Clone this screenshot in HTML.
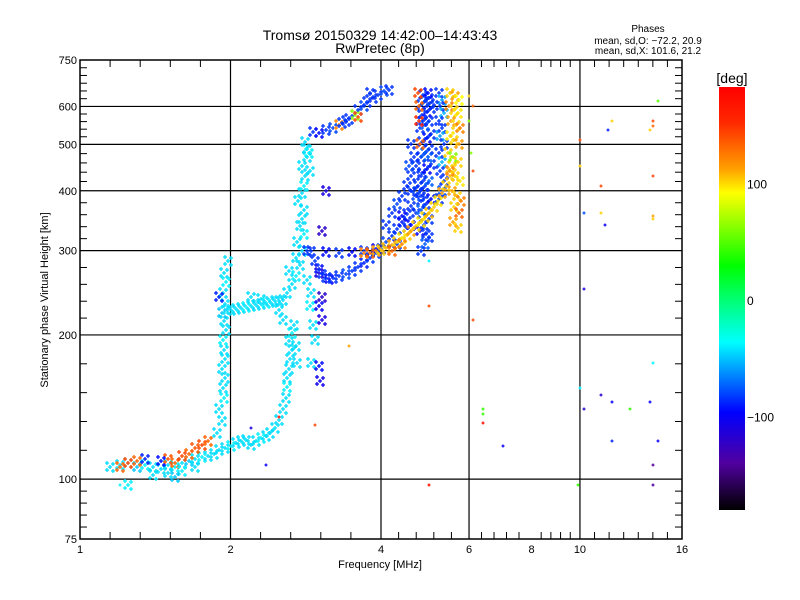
<!DOCTYPE html>
<html><head><meta charset="utf-8"><style>
body{margin:0;background:#fff;}
svg{display:block;font-family:"Liberation Sans",sans-serif;}
</style></head><body>
<svg id="c" width="800" height="600" viewBox="0 0 800 600">
<rect x="0" y="0" width="800" height="600" fill="#fff"/>
<text x="380" y="40" font-size="14" text-anchor="middle">Tromsø 20150329 14:42:00–14:43:43</text>
<text x="380" y="53" font-size="14" text-anchor="middle">RwPretec (8p)</text>
<text x="648" y="32" font-size="10" text-anchor="middle">Phases</text>
<text x="648" y="44" font-size="10" text-anchor="middle">mean, sd,O: −72.2, 20.9</text>
<text x="648" y="54" font-size="10" text-anchor="middle">mean, sd,X: 101.6, 21.2</text>
<g id="grid"></g>
<g id="pts"></g>
<g id="axes"></g>
<text x="380" y="568" font-size="11" text-anchor="middle">Frequency [MHz]</text>
<text transform="translate(48,300) rotate(-90)" font-size="11" text-anchor="middle">Stationary phase Virtual Height [km]</text>
<defs><linearGradient id="cg" x1="0" y1="0" x2="0" y2="1">
<stop offset="0" stop-color="#ff0000"/><stop offset="0.083" stop-color="#ff2800"/><stop offset="0.194" stop-color="#ffa000"/><stop offset="0.25" stop-color="#ffff00"/><stop offset="0.422" stop-color="#00ff00"/><stop offset="0.603" stop-color="#00ffff"/><stop offset="0.769" stop-color="#0000ff"/><stop offset="0.889" stop-color="#50009f"/><stop offset="1" stop-color="#000000"/>
</linearGradient></defs>
<rect x="719" y="87" width="26" height="423" fill="url(#cg)"/>
<text x="732" y="83" font-size="14" text-anchor="middle">[deg]</text>
<g id="cbt"></g>
</svg>
<script>
const NS="http://www.w3.org/2000/svg";
const xTicks=[1,2,4,6,8,10,16];
const yTicks=[75,100,200,300,400,500,600,750];
const yGrid=[100,200,300,400,500,600];
const xGrid=[2,4,6,10];
const cbTicks=[100,0,-100];
const eLow=[[1.15,106,-45],[1.2,107,-45],[1.25,108,-45],[1.3,106,-50],[1.35,107,-40],[1.4,106,-45],[1.45,105,-45],[1.5,107,-45],[1.55,106,-40],[1.6,108,-45],[1.65,109,-50],[1.7,110,-45],[1.75,111,-40],[1.8,112,-45],[1.85,113,-45],[1.9,115,-45],[1.95,116,-45],[2.0,117,-40],[2.05,119,-45],[2.1,120,-45],[2.15,121,-45],
[1.2,106,130],[1.25,108,140],[1.3,109,130],[1.5,110,135],[1.55,108,130],[1.6,112,140],[1.65,113,130],[1.7,116,135],[1.75,118,140],[1.8,120,130],[1.45,109,-95],[1.35,110,-90],
[1.4,102,-45],[1.5,103,-45],[1.6,104,-40],[1.7,106,-45],[1.55,101,-50],[1.25,97,-40]];
const eVert=[[1.88,125,-45],[1.92,132,-45],[1.9,140,-45],[1.94,148,-40],[1.93,155,-45],[1.95,163,-45],[1.92,170,-45],[1.95,178,-45],[1.94,186,-45],[1.93,195,-40],[1.96,205,-45],[1.94,214,-45],[1.92,222,-50],[1.95,232,-45],[1.93,245,-45],[1.96,258,-40],[1.94,270,-45],[1.98,285,-45],[1.9,240,-90],[1.97,225,-45],
[2.0,226,-45],[2.05,227,-45],[2.1,228,-45],[2.15,229,-40],[2.2,230,-45],[2.25,231,-45],[2.3,232,-45],[2.35,233,-40],[2.4,234,-45],[2.45,235,-45],[2.5,236,-45],[2.55,237,-45],[2.2,240,-45],[2.3,238,-45]];
const f1Trace=[[2.2,118,-45],[2.25,120,-45],[2.3,122,-40],[2.35,123,-45],[2.4,125,-45],[2.45,128,-45],[2.5,133,-45],[2.55,140,-45],[2.58,148,-45],[2.6,156,-40],[2.6,163,-45],[2.62,170,-45],[2.63,178,-45],[2.65,186,-45],[2.62,194,-45],[2.65,202,-40],[2.68,210,-45],[2.7,190,-45],[2.72,175,-45],
[2.6,245,-45],[2.65,255,-45],[2.7,265,-40],[2.62,272,-45],[2.75,280,-45],[2.7,290,-45],[2.78,300,-45],[2.72,312,-45],[2.8,325,-40],[2.75,338,-45],[2.78,350,-45],[2.8,365,-45],[2.73,380,-45],[2.78,395,-45],[2.8,410,-40],[2.82,430,-45],[2.78,450,-45],[2.84,470,-45],[2.85,490,-45],[2.82,505,-45],[2.87,480,-40],[2.88,440,-45],[2.85,260,-45],[2.9,245,-45],[2.88,230,-40],[2.92,210,-45],[2.95,195,-45],[2.9,175,-45],[2.55,215,-45],[2.5,225,-45],
[3.0,270,-110],[3.05,240,-120],[3.0,230,-100],[3.05,215,-110],[3.0,172,-95],[3.02,160,-105],[3.1,400,-110],[3.05,330,-120]];
const oTrace=[[2.85,300,-85],[2.95,285,-85],[3.0,275,-95],[3.05,268,-85],[3.1,263,-85],[3.15,262,-95],[3.2,263,-85],[3.3,265,-85],[3.4,268,-80],[3.5,272,-85],[3.6,277,-85],[3.7,283,-90],[3.8,290,-85],[3.9,296,-85],[4.0,303,-85],[4.1,312,-80],[4.2,322,-85],[4.3,333,-85],[4.4,345,-90],[4.5,358,-85],[4.6,372,-85],[4.7,390,-80],[4.75,410,-85],[4.8,430,-85],
[2.9,300,-85],[3.1,298,-95],[3.3,297,-85],[3.5,298,-95],[3.7,300,-85],[3.9,302,-105],
[4.1,340,-85],[4.2,360,-85],[4.3,375,-80],[4.4,390,-85],[4.5,410,-85],[4.6,430,-85],[4.4,355,-95],[4.6,400,-85],[4.7,450,-85],[4.3,310,-85],[4.5,335,-85],[4.7,360,-85],[4.6,340,-95],[4.8,380,-85],[4.65,470,-85],[4.55,450,-80],[4.6,500,-85]];
const oBand=[[4.8,300,-85],[4.9,310,-75],[5.0,320,-85],[4.78,330,-95],[4.88,340,-85],[4.98,350,-85],[4.82,365,-75],[4.93,375,-85],[5.03,385,-95],[4.79,400,-85],[4.9,410,-85],[5.0,420,-75],[4.84,435,-85],[4.95,445,-95],[5.04,455,-85],[4.8,470,-85],[4.9,480,-75],[5.0,490,-85],[4.83,505,-85],[4.95,515,-95],[5.03,525,-85],[4.79,540,-85],[4.9,550,-75],[5.0,560,-85],[4.84,575,-85],[4.95,585,-95],[5.04,595,-85],[4.8,605,-85],[4.9,615,-75],[5.0,625,-85],[4.85,635,-85],[4.97,640,-95],[5.02,610,-85],[4.86,560,-85],[4.97,470,-75],[4.87,395,-85],[4.93,325,-85],
[4.75,640,140],[4.77,600,130],[4.76,560,150],[4.78,500,130],
[5.22,640,-85],[5.3,620,-60],[5.25,600,-85],[5.35,580,-55],[5.22,560,-85],[5.3,540,-85],[5.25,520,-60],[5.35,500,-85],[5.22,480,-85],[5.3,460,-55],[5.25,440,-85],[5.35,420,-85],[5.3,400,-80],[5.22,385,-85]];
const xTrace=[[3.7,296,120],[3.8,297,130],[3.9,299,110],[4.0,301,100],[4.1,304,105],[4.2,308,110],[4.3,313,100],[4.4,318,95],[4.5,324,100],[4.6,330,110],[4.7,337,100],[4.8,345,95],[4.9,352,100],[5.0,360,105],[5.1,370,100],[5.2,380,95],[5.3,395,110],[5.4,410,100],[5.5,430,105],[5.55,450,100],[4.2,300,130],[4.4,310,120],
[5.5,640,100],[5.62,630,110],[5.72,620,90],[5.48,600,120],[5.6,590,100],[5.7,580,95],[5.52,560,110],[5.65,550,100],[5.75,540,120],[5.5,520,95],[5.6,510,100],[5.72,500,110],[5.45,480,100],[5.58,470,60],[5.7,460,100],[5.5,440,120],[5.62,430,100],[5.75,420,95],[5.55,400,110],[5.68,390,100],[5.78,380,120],[5.6,370,100],[5.72,360,130],[5.58,345,110],[5.7,335,100]];
const upperTrace=[[2.92,530,-85],[3.0,528,-95],[3.1,535,-85],[3.2,540,-80],[3.3,548,120],[3.35,553,-85],[3.45,565,-85],[3.55,575,60],[3.6,590,-85],[3.7,600,-80],[3.75,612,-85],[3.85,625,-85],[3.95,635,-85],[4.05,645,-80],[4.15,650,-85],[3.4,560,-85],[3.6,570,140],[3.8,640,-85]];
const scatter=[[6.0,630,100],[6.1,600,130],[6.0,560,60],[6.05,480,60],[6.1,440,140],[6.1,215,140],[5.0,285,-40],[5.0,230,140],[5.0,97,170],[6.4,140,40],[6.4,137,40],[6.4,131,170],[7.0,117,-100],[3.45,190,110],[2.95,130,140],[2.35,107,-100],[1.2,97,-40],[2.5,135,170],[2.2,128,-110],
[10.0,510,140],[10.0,450,100],[10.2,360,-80],[11.0,410,140],[11.0,360,100],[11.2,340,-100],[11.6,560,100],[11.4,535,-90],[14.0,560,140],[14.0,545,130],[13.8,535,100],[14.3,615,50],[14.0,430,140],[14.0,355,110],[14.0,350,100],[14.0,175,-40],[10.2,250,-110],[10.0,155,-40],[10.2,140,-120],[11.0,150,-120],[11.6,145,-100],[12.6,140,40],[13.8,145,-100],[14.3,120,-100],[11.6,120,-90],[14.0,107,-140],[14.0,97,-140],[9.9,97,40]];

const X0=80,X1=682,Y0=539,Y1=60;
function xs(f){return X0+(X1-X0)*Math.log(f)/Math.log(16);}
function ys(h){return Y0-(Y0-Y1)*Math.log10(h/75);}
function cbY(p){return 300-p*1.167;}
const stops=[[180,255,0,0],[150,255,40,0],[110,255,160,0],[90,255,255,0],[28,0,255,0],[-37,0,255,255],[-97,0,0,255],[-140,80,0,159],[-180,0,0,0]];
function col(p){for(let i=0;i<stops.length-1;i++){const a=stops[i],b=stops[i+1];if(p<=a[0]&&p>=b[0]){const t=(a[0]-p)/(a[0]-b[0]);return `rgb(${Math.round(a[1]+(b[1]-a[1])*t)},${Math.round(a[2]+(b[2]-a[2])*t)},${Math.round(a[3]+(b[3]-a[3])*t)})`;}}return p>0?"rgb(255,0,0)":"rgb(0,0,0)";}
function mk(tag,at,parent){const e=document.createElementNS(NS,tag);for(const k in at)e.setAttribute(k,at[k]);parent.appendChild(e);return e;}
const grid=document.getElementById('grid'),axes=document.getElementById('axes'),pts=document.getElementById('pts'),cbt=document.getElementById('cbt');
yGrid.forEach(v=>{const l=mk('line',{x1:X0,x2:X1,y1:ys(v),y2:ys(v),stroke:'#000','stroke-width':1.2},grid);

});
xGrid.forEach(v=>{const l=mk('line',{x1:xs(v),x2:xs(v),y1:Y1,y2:Y0,stroke:'#000','stroke-width':1.2},grid);

});
const dense=[eLow,eVert,f1Trace,oTrace,oBand,xTrace,upperTrace];
function cross(x,y){return `M${x-2} ${y}h4M${x} ${y-2}v4`;}
dense.forEach(arr=>arr.forEach(d=>{
 const x=Math.round(xs(d[0])),y=Math.round(ys(d[1])),c=col(d[2]);
 const g=mk('path',{d:cross(x,y)+cross(x+3,y-3)+cross(x-3,y+3)+cross(x-3,y-4)+cross(x+3,y+4),stroke:c,'stroke-width':1.3,fill:'none'},pts);
 
 
}));
scatter.forEach(d=>{
 const x=Math.round(xs(d[0])),y=Math.round(ys(d[1])),c=col(d[2]);
 const g=mk('path',{d:`M${x-1.5} ${y}h3M${x} ${y-1.5}v3`,stroke:c,'stroke-width':1.2,fill:'none'},pts);
 
 
});
const fr=mk('rect',{x:X0,y:Y1,width:X1-X0,height:Y0-Y1,fill:'none',stroke:'#000','stroke-width':1.5},axes);


const xSub=[5,5,5,5,5,7];
for(let i=0;i<xTicks.length;i++){
 const x=xs(xTicks[i]);
 const t=mk('text',{x:x,y:553,'font-size':11,'text-anchor':'middle'},axes);t.textContent=xTicks[i];
 
 
 if(i<xTicks.length-1){const x2=xs(xTicks[i+1]),n=xSub[i];
  for(let k=1;k<n;k++){const xx=x+(x2-x)*k/n;
   mk('line',{x1:xx,x2:xx,y1:Y0,y2:Y0-7,stroke:'#000'},axes);
   mk('line',{x1:xx,x2:xx,y1:Y1,y2:Y1+7,stroke:'#000'},axes);}}
}
const ySub=[5,5,5,5,5,5,6];
for(let i=0;i<yTicks.length;i++){
 const y=ys(yTicks[i]);
 const t=mk('text',{x:X0-3,y:y+4,'font-size':11,'text-anchor':'end'},axes);t.textContent=yTicks[i];
 
 
 if(i<yTicks.length-1){const y2=ys(yTicks[i+1]),n=ySub[i];
  for(let k=1;k<n;k++){const yy=y+(y2-y)*k/n;
   mk('line',{x1:X0,x2:X0+7,y1:yy,y2:yy,stroke:'#000'},axes);
   mk('line',{x1:X1,x2:X1-7,y1:yy,y2:yy,stroke:'#000'},axes);}}
}
cbTicks.forEach(v=>{const t=mk('text',{x:747,y:cbY(v)+5,'font-size':12},cbt);t.textContent=v<0?'−'+(-v):v;
 
 });
</script>
</body></html>
